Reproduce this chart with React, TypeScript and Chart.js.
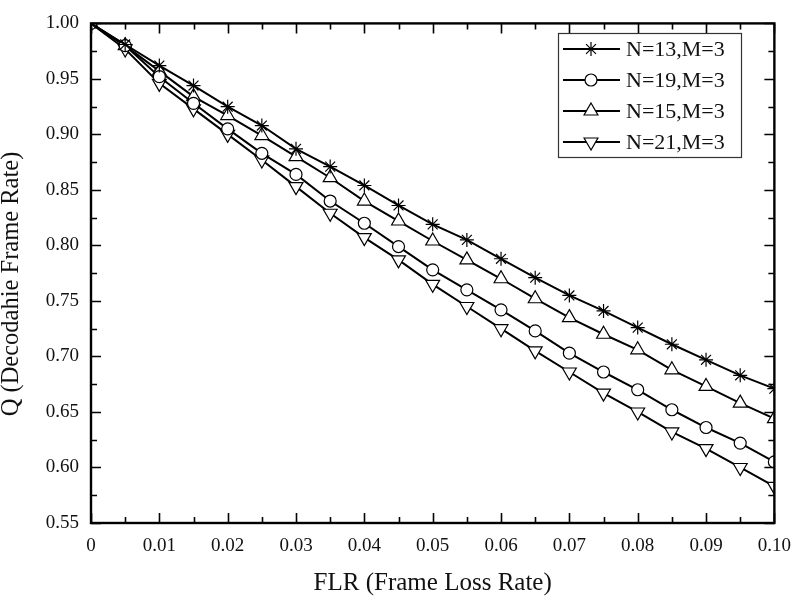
import React, { useEffect, useRef } from "react";
import { Chart, registerables } from "chart.js";
import { drawPoint } from "chart.js/helpers";

Chart.register(...registerables);

const flr = [0, 0.005, 0.01, 0.015, 0.02, 0.025, 0.03, 0.035, 0.04, 0.045, 0.05, 0.055, 0.06, 0.065, 0.07, 0.075, 0.08, 0.085, 0.09, 0.095, 0.1];

const n13 = [1.0, 0.981, 0.962, 0.944, 0.925, 0.908, 0.887, 0.871, 0.854, 0.836, 0.819, 0.805, 0.788, 0.771, 0.755, 0.741, 0.726, 0.711, 0.697, 0.683, 0.671];
const n19 = [1.0, 0.980, 0.952, 0.928, 0.905, 0.883, 0.864, 0.840, 0.820, 0.799, 0.778, 0.760, 0.742, 0.723, 0.703, 0.686, 0.670, 0.652, 0.636, 0.622, 0.605];
const n15 = [1.0, 0.980, 0.957, 0.934, 0.917, 0.899, 0.880, 0.861, 0.840, 0.822, 0.804, 0.787, 0.770, 0.752, 0.735, 0.720, 0.706, 0.688, 0.673, 0.658, 0.644];
const n21 = [1.0, 0.977, 0.946, 0.923, 0.900, 0.877, 0.853, 0.829, 0.807, 0.787, 0.765, 0.745, 0.725, 0.705, 0.686, 0.667, 0.650, 0.632, 0.617, 0.600, 0.583];

const seriesLabels = ["N=13,M=3", "N=19,M=3", "N=15,M=3", "N=21,M=3"];
const xTitle = "FLR (Frame Loss Rate)";
const yTitle = "Q (Decodahie Frame Rate)";

const SERIF = "'Liberation Serif', 'Times New Roman', serif";

const frameTicks = {
  id: "frameTicks",
  afterDatasetsDraw(chart: any) {
    const { ctx, chartArea, scales } = chart;
    const { left, right, top, bottom } = chartArea;
    const xs = scales.x;
    const ys = scales.y;
    ctx.save();
    ctx.strokeStyle = "#000";
    ctx.lineWidth = 1.6;
    ctx.beginPath();
    for (let i = 0; i <= 20; i++) {
      const v = i * 0.005;
      const px = Math.round(xs.getPixelForValue(v)) + 0.5;
      const len = i % 2 === 0 ? 10 : 6;
      ctx.moveTo(px, bottom);
      ctx.lineTo(px, bottom - len);
      ctx.moveTo(px, top);
      ctx.lineTo(px, top + len);
    }
    for (let i = 0; i <= 18; i++) {
      const v = 0.55 + i * 0.025;
      const py = Math.round(ys.getPixelForValue(v)) + 0.5;
      const len = i % 2 === 0 ? 10 : 6;
      ctx.moveTo(left, py);
      ctx.lineTo(left + len, py);
      ctx.moveTo(right, py);
      ctx.lineTo(right - len, py);
    }
    ctx.stroke();
    ctx.lineWidth = 2.4;
    ctx.strokeRect(left, top, right - left, bottom - top);
    ctx.restore();
  },
};

const yTitlePlugin = {
  id: "yTitlePlugin",
  afterDraw(chart: any) {
    const { ctx } = chart;
    ctx.save();
    ctx.translate(18, 284);
    ctx.rotate(-Math.PI / 2);
    ctx.fillStyle = "#111";
    ctx.font = `24.5px ${SERIF}`;
    ctx.textAlign = "center";
    ctx.textBaseline = "alphabetic";
    ctx.fillText(yTitle, 0, 0);
    ctx.restore();
  },
};

const boxLegend = {
  id: "boxLegend",
  afterDraw(chart: any) {
    const { ctx } = chart;
    const bx = 558, by = 33, bw = 183, bh = 124;
    ctx.save();
    ctx.fillStyle = "#fff";
    ctx.fillRect(bx, by, bw, bh);
    ctx.strokeStyle = "#333";
    ctx.lineWidth = 1.2;
    ctx.strokeRect(bx + 0.5, by + 0.5, bw, bh);
    chart.data.datasets.forEach((ds: any, i: number) => {
      const cy = by + 16 + i * 31;
      ctx.strokeStyle = "#000";
      ctx.lineWidth = 2;
      ctx.beginPath();
      ctx.moveTo(bx + 5, cy);
      ctx.lineTo(bx + 62, cy);
      ctx.stroke();
      ctx.fillStyle = "#fff";
      ctx.strokeStyle = "#000";
      ctx.lineWidth = 1.2;
      drawPoint(ctx, { pointStyle: ds.pointStyle, rotation: ds.pointRotation || 0, radius: ds.pointRadius, borderWidth: 1.2 } as any, bx + 33, cy);
      ctx.fillStyle = "#111";
      ctx.font = `22px ${SERIF}`;
      ctx.textBaseline = "middle";
      ctx.textAlign = "left";
      ctx.fillText(ds.label, bx + 68, cy + 1);
    });
    ctx.restore();
  },
};

export default function App() {
  const ref = useRef<HTMLCanvasElement>(null);
  useEffect(() => {
    if (!ref.current) return;
    const mk = (label: string, data: number[], style: string, radius: number, rot = 0) => ({
      label,
      data: flr.map((x, i) => ({ x, y: data[i] })),
      borderColor: "#000",
      borderWidth: 2,
      pointStyle: style,
      pointRadius: radius,
      pointRotation: rot,
      pointBackgroundColor: "#fff",
      pointBorderColor: "#000",
      pointBorderWidth: 1.2,
      tension: 0,
    });
    const chart = new Chart(ref.current, {
      type: "line",
      data: {
        datasets: [
          mk(seriesLabels[0], n13, "star", 7),
          mk(seriesLabels[1], n19, "circle", 6),
          mk(seriesLabels[2], n15, "triangle", 8),
          mk(seriesLabels[3], n21, "triangle", 8, 180),
        ] as any,
      },
      options: {
        animation: false,
        responsive: false,
        maintainAspectRatio: false,
        layout: { padding: { left: 0, top: 14, right: 20, bottom: 0 } },
        plugins: { legend: { display: false }, tooltip: { enabled: false } },
        scales: {
          x: {
            type: "linear",
            min: 0,
            max: 0.1,
            grid: { display: false, drawTicks: false },
            border: { display: false },
            ticks: {
              stepSize: 0.01,
              padding: 12,
              color: "#111",
              font: { family: SERIF, size: 19, lineHeight: 1.2 },
              maxRotation: 0,
              autoSkip: false,
              callback: (v: any) => (Math.abs(v) < 1e-9 ? "0" : Number(v).toFixed(2)),
            },
            title: {
              display: true,
              text: xTitle,
              color: "#111",
              font: { family: SERIF, size: 25, lineHeight: 1.2 },
              padding: { top: 0, bottom: 3 },
            },
            afterFit: (s: any) => { s.height = 78; },
          },
          y: {
            type: "linear",
            min: 0.55,
            max: 1.0,
            grid: { display: false, drawTicks: false },
            border: { display: false },
            ticks: {
              stepSize: 0.05,
              padding: 12,
              color: "#111",
              font: { family: SERIF, size: 19, lineHeight: 1.2 },
              autoSkip: false,
              callback: (v: any) => Number(v).toFixed(2),
            },
            title: { display: false },
            afterFit: (s: any) => { s.width = 91; },
          },
        },
      } as any,
      plugins: [frameTicks, boxLegend, yTitlePlugin],
    });
    return () => chart.destroy();
  }, []);
  return (
    <div style={{ position: "fixed", left: 0, top: 0, width: 803, height: 601, background: "#fff" }}>
      <canvas ref={ref} width={803} height={601} style={{ display: "block" }} />
    </div>
  );
}
